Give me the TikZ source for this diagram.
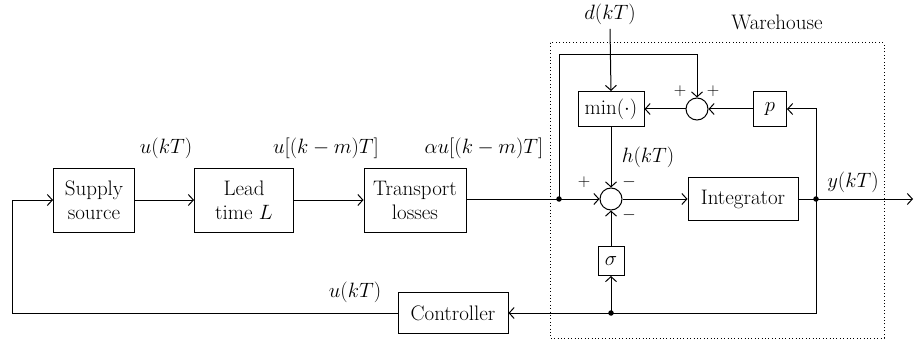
\documentclass[tikz,border=0pt]{standalone}
\usetikzlibrary{arrows.meta}
\begin{document}
\begin{tikzpicture}[x=1pt,y=-1pt,font=\fontsize{21}{24}\selectfont,line width=1pt,>={Straight Barb[length=5pt,width=11pt]},
  blk/.style={draw,inner sep=0pt,align=center},
  sumc/.style={draw,circle,minimum size=22pt,inner sep=0pt},
  jdot/.style={circle,fill,inner sep=0pt,minimum size=5.5pt},
  sgn/.style={font=\fontsize{16}{16}\selectfont,inner sep=0pt},
  lbl/.style={inner sep=0pt}]
\useasboundingbox (0,0) rectangle (914,345);
% warehouse frame
\draw[line width=1pt,dash pattern=on 1pt off 2.4pt] (550,43) rectangle (884,338);
\node[lbl] (wh) at (777,22) {Warehouse};
% blocks
\node[blk,minimum width=81pt,minimum height=64pt] (sup) at (94,200) {Supply\\source};
\node[blk,minimum width=99pt,minimum height=64pt] (lead) at (244,200) {Lead\\time $L$};
\node[blk,minimum width=102pt,minimum height=64pt] (trans) at (415,200) {Transport\\losses};
\node[blk,minimum width=110pt,minimum height=41pt] (ctrl) at (453,313) {Controller};
\node[blk,minimum width=66pt,minimum height=35pt] (min) at (611,109) {min$(\cdot)$};
\node[blk,minimum width=33pt,minimum height=35pt] (p) at (770,109) {$p$};
\node[sumc] (s1) at (697,109) {};
\node[sumc] (s2) at (611,199) {};
\node[blk,minimum width=110pt,minimum height=43pt] (int) at (743,199) {Integrator};
\node[blk,minimum width=26pt,minimum height=29pt] (sig) at (611,261) {$\sigma$};
% junctions and corners
\node[jdot] (j1) at (559,199) {};
\node[jdot] (j2) at (816,199) {};
\node[jdot] (j3) at (611,313) {};
\coordinate (tl) at (559,55);
\coordinate (br) at (816,313);
\coordinate (cl) at (12,313);
\coordinate (out) at (913,199);
% labels
\node[lbl] (d) at (610,14) {$d(kT)$};
\node[lbl] (l1) at (166,148) {$u(kT)$};
\node[lbl] (l2) at (326,148) {$u[(k-m)T]$};
\node[lbl] (l3) at (484,148) {$\alpha u[(k-m)T]$};
\node[lbl] (l4) at (355,292) {$u(kT)$};
\node[lbl] (h) at (648,157) {$h(kT)$};
\node[lbl] (y) at (853,182) {$y(kT)$};
\node[sgn] (p1) at (680,91) {$+$};
\node[sgn] (p2) at (713,91) {$+$};
\node[sgn] (p3) at (584,182) {$+$};
\node[sgn] (m1) at (629,182) {$-$};
\node[sgn] (m2) at (629,215) {$-$};
% connectors
\draw[->] (sup) -- (lead);
\draw[->] (lead) -- (trans);
\draw[->] (trans.east |- s2) -- (s2.west);
\draw[->] (j1.center) -- (tl) -| (s1.north);
\draw[->] (d.south) ++(0,4) -- (min.north);
\draw[->] (s1) -- (min);
\draw[->] (p) -- (s1);
\draw[->] (j2.center) |- (p.east);
\draw[->] (min) -- (s2);
\draw[->] (s2) -- (int);
\draw (int.east) -- (j2.center);
\draw[->] (j2.center) -- (out);
\draw[->] (j2.center) -- (br) -- (ctrl.east);
\draw[->] (j3.center) -- (sig);
\draw[->] (sig) -- (s2);
\draw[->] (ctrl.west) -- (cl) |- (sup.west);
\end{tikzpicture}
\end{document}
